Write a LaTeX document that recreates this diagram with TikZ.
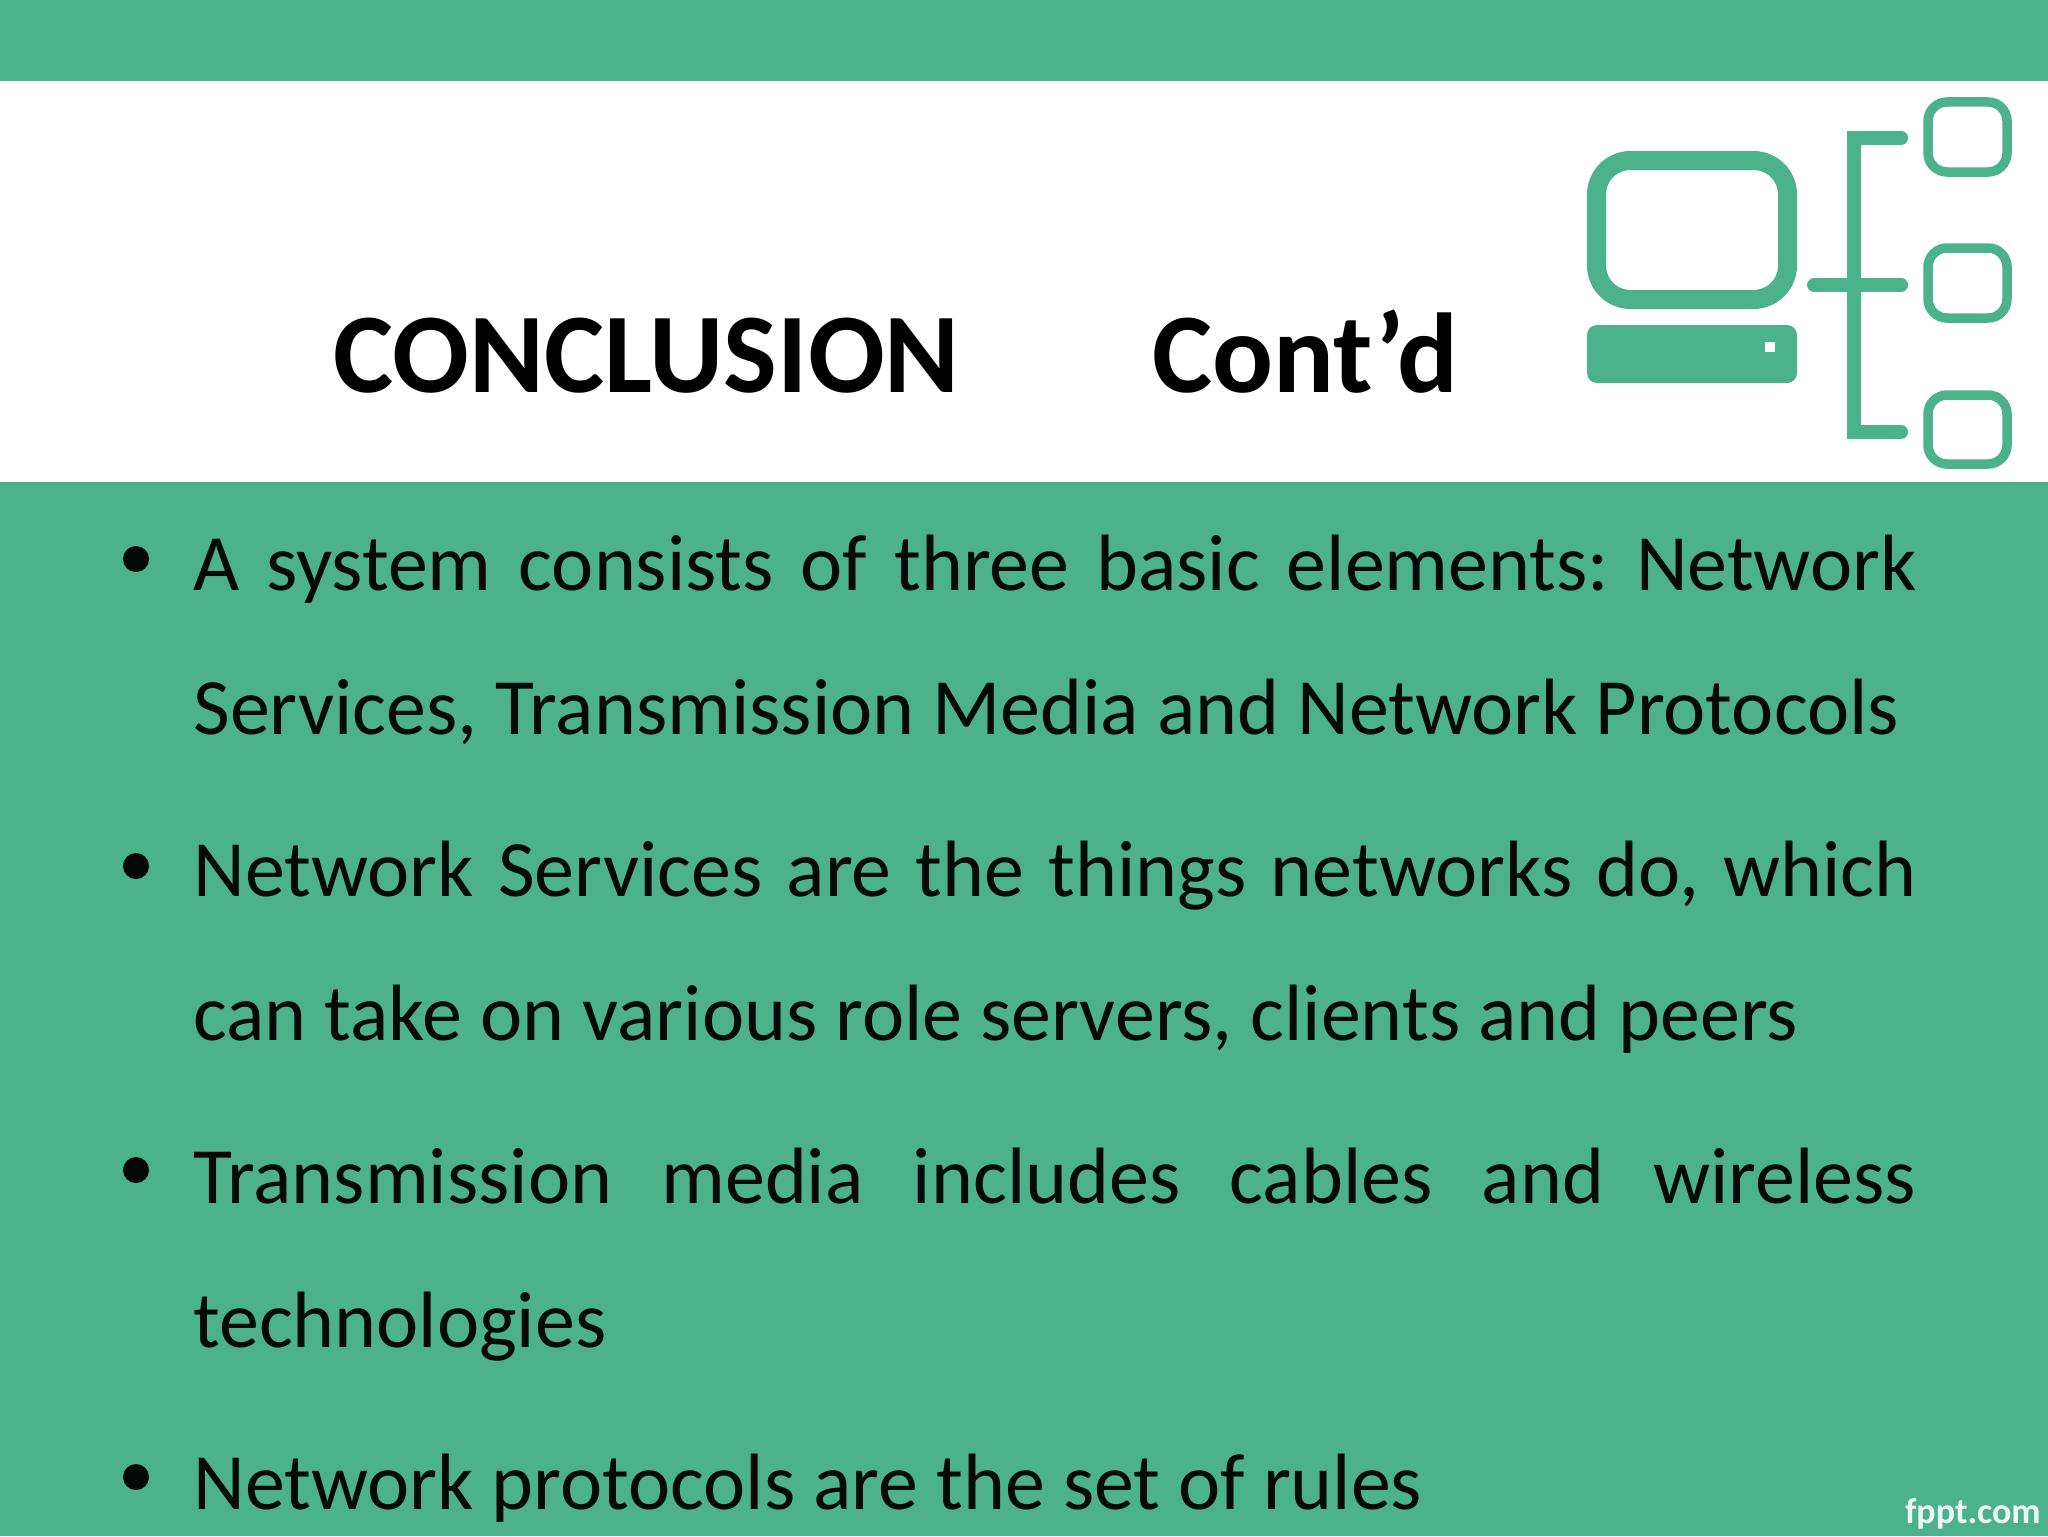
\documentclass[tikz,border=0pt]{standalone}
\usepackage{fontspec}
\setmainfont{Carlito}
\frenchspacing
\definecolor{band}{HTML}{4CB28C}
\definecolor{ink}{HTML}{050A08}
\tikzset{
  body/.style={anchor=base west,inner sep=0pt,text=ink,font=\fontsize{39.95}{44}\selectfont\frenchspacing},
  titletext/.style={anchor=base west,inner sep=0pt,text=black,font=\fontsize{56.8}{60}\selectfont\bfseries},
  dot/.style={circle,fill=ink,inner sep=0pt,minimum size=13pt},
  iconline/.style={draw=band,line width=7pt,line cap=round,line join=miter},
  boxsmall/.style={draw=band,line width=4.75pt,rounded corners=9.5pt},
  monitor/.style={draw=band,line width=9.5pt,rounded corners=17pt},
}
\newcommand{\jline}[1]{\makebox[861.5pt][s]{#1}}
\begin{document}
\begin{tikzpicture}[x=0.5pt,y=-0.5pt]
\useasboundingbox (0,0) rectangle (2048,1536);
\fill[white] (0,0) rectangle (2048,1536);
\fill[band] (0,0) rectangle (2048,81);
\fill[band] (0,482) rectangle (2048,1536);
% title
\node[titletext] (t1) at (333,392) {CONCLUSION};
\node[titletext] (t2) at (1152,392) {Cont’d};
% icon
\draw[monitor] (1596.5,160.5) rectangle (1787.5,299.5);
\fill[band,rounded corners=5pt] (1587,325) rectangle (1797,383);
\fill[white] (1765,342) rectangle (1775,352);
\draw[iconline] (1901,138) -- (1854,138) -- (1854,432) -- (1901,432);
\draw[iconline] (1814,285) -- (1901,285);
\draw[boxsmall] (1928,102) rectangle (2007,172);
\draw[boxsmall] (1928,248) rectangle (2007,318);
\draw[boxsmall] (1928,395) rectangle (2007,464);
% bullets
\node[dot] (b1) at (136,559) {};
\node[dot] (b2) at (136,866) {};
\node[dot] (b3) at (136,1170) {};
\node[dot] (b4) at (136,1477) {};
% body
\node[body] (l1) at (193,590) {\jline{A system consists of three basic elements: Network}};
\node[body] (l2) at (193,734) {Services, Transmission Media and Network Protocols};
\node[body] (l3) at (193,896) {\jline{Network Services are the things networks do, which}};
\node[body] (l4) at (193,1040) {can take on various role servers, clients and peers};
\node[body] (l5) at (193,1203) {\jline{Transmission media includes cables and wireless}};
\node[body] (l6) at (193,1347) {technologies};
\node[body] (l7) at (193,1509) {Network protocols are the set of rules};
% watermark
\node[anchor=base east,inner sep=0pt,text=white!90!band,font=\fontsize{18}{20}\selectfont\bfseries] (w) at (2041,1523) {fppt.com};
\end{tikzpicture}
\end{document}
